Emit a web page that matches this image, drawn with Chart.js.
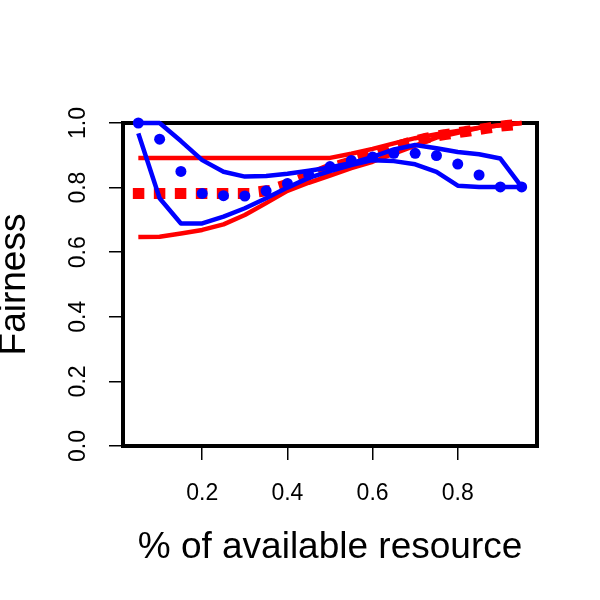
<!DOCTYPE html>
<html>
<head>
<meta charset="utf-8">
<script src="https://cdn.jsdelivr.net/npm/chart.js@4"></script>
<style>
  html, body { margin: 0; padding: 0; background: #fff; }
</style>
</head>
<body>
<canvas id="myChart" width="600" height="600"></canvas>
<script>
// x values (share of available resource)
const resource = [0.05, 0.1, 0.15, 0.2, 0.25, 0.3, 0.35, 0.4, 0.45, 0.5,
                  0.55, 0.6, 0.65, 0.7, 0.75, 0.8, 0.85, 0.9, 0.95];

// blue: mean as dots, band as two lines
const blueMean  = [1.0, 0.95, 0.85, 0.782, 0.775, 0.774, 0.79, 0.813, 0.84, 0.865,
                   0.884, 0.895, 0.906, 0.906, 0.899, 0.873, 0.839, 0.802, 0.802];
const blueUpper = [1.0, 1.0, 0.944, 0.885, 0.849, 0.834, 0.836, 0.843, 0.852, 0.862,
                   0.876, 0.895, 0.918, 0.932, 0.922, 0.91, 0.903, 0.89, 0.802];
const blueLower = [0.968, 0.767, 0.689, 0.689, 0.71, 0.736, 0.767, 0.80, 0.83, 0.851,
                   0.87, 0.885, 0.882, 0.872, 0.849, 0.806, 0.802, 0.802, 0.802];

// red: mean as thick dotted line, band as two lines
const redMean  = [0.782, 0.782, 0.782, 0.782, 0.782, 0.782, 0.79, 0.81, 0.835, 0.86,
                  0.88, 0.90, 0.925, 0.945, 0.96, 0.97, 0.98, 0.99, 0.997];
const redUpper = [0.892, 0.892, 0.892, 0.892, 0.892, 0.892, 0.892, 0.892, 0.892, 0.892,
                  0.905, 0.92, 0.937, 0.953, 0.965, 0.975, 0.985, 0.993, 1.0];
const redLower = [0.647, 0.648, 0.658, 0.669, 0.686, 0.715, 0.752, 0.79, 0.815, 0.837,
                  0.86, 0.88, 0.905, 0.93, 0.955, 0.97, 0.985, 0.993, 1.0];

const xTicks = [0.2, 0.4, 0.6, 0.8];
const yTicks = [0, 0.2, 0.4, 0.6, 0.8, 1.0];

const BLUE = "#0000ff";
const RED = "#ff0000";
const FONT = "'Liberation Sans', Arial, Helvetica, sans-serif";

function toPoints(values) {
  return resource.map((x, i) => ({ x: x, y: values[i] }));
}

function lineSet(values, color, extra) {
  return Object.assign({
    data: toPoints(values),
    showLine: true,
    borderColor: color,
    backgroundColor: color,
    borderWidth: 4.5,
    borderJoinStyle: "round",
    pointRadius: 0,
    clip: false
  }, extra || {});
}

// R style box round the plot region
const boxPlugin = {
  id: "box",
  beforeDatasetsDraw(chart) {
    const { ctx, chartArea: a } = chart;
    ctx.save();
    ctx.lineWidth = 4;
    ctx.strokeStyle = "#000";
    ctx.strokeRect(a.left, a.top, a.right - a.left, a.bottom - a.top);
    ctx.restore();
  }
};

const ctx = document.getElementById("myChart").getContext("2d");

const myChart = new Chart(ctx, {
  type: "scatter",
  data: {
    datasets: [
      {
        data: toPoints(blueMean),
        showLine: false,
        pointRadius: 5.5,
        pointBorderWidth: 0,
        backgroundColor: BLUE,
        borderColor: BLUE,
        clip: false
      },
      lineSet(blueUpper, BLUE),
      lineSet(blueLower, BLUE),
      lineSet(redMean, RED, { borderWidth: 11, borderDash: [0.5, 20.5], borderCapStyle: "square" }),
      lineSet(redUpper, RED),
      lineSet(redLower, RED)
    ]
  },
  plugins: [boxPlugin],
  options: {
    responsive: false,
    animation: false,
    devicePixelRatio: 1,
    layout: { padding: { top: 123, right: 63, left: 0, bottom: 0 } },
    plugins: {
      legend: { display: false },
      tooltip: { enabled: false }
    },
    scales: {
      x: {
        type: "linear",
        position: "bottom",
        min: 0.014,
        max: 0.986,
        afterBuildTicks: s => { s.ticks = xTicks.map(v => ({ value: v })); },
        afterFit: s => { s.height = 154; },
        border: { display: false },
        grid: { drawOnChartArea: false, tickLength: 14, color: "#000", lineWidth: 1.5 },
        ticks: {
          color: "#000",
          padding: 20,
          maxRotation: 0,
          font: { family: FONT, size: 23 },
          callback: v => v.toFixed(1)
        },
        title: {
          display: true,
          text: "% of available resource",
          color: "#000",
          font: { family: FONT, size: 37, lineHeight: 1 },
          padding: { top: 0, bottom: 33.5 }
        }
      },
      y: {
        type: "linear",
        position: "left",
        min: 0,
        max: 1,
        afterBuildTicks: s => { s.ticks = yTicks.map(v => ({ value: v })); },
        afterFit: s => { s.width = 123; },
        border: { display: false },
        grid: { drawOnChartArea: false, tickLength: 14, color: "#000", lineWidth: 1.5 },
        ticks: {
          color: "#000",
          padding: 14,
          minRotation: 90,
          maxRotation: 90,
          crossAlign: "center",
          font: { family: FONT, size: 23 },
          callback: v => v.toFixed(1)
        },
        title: {
          display: true,
          text: "Fairness",
          color: "#000",
          font: { family: FONT, size: 37, lineHeight: 0.8 },
          padding: { top: 0, bottom: 0 }
        }
      }
    }
  }
});
</script>
</body>
</html>
